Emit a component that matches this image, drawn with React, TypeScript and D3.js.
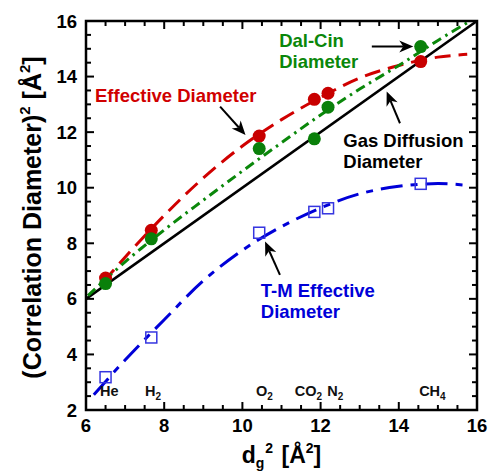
import React from 'react';
import * as d3 from 'd3';

// measured points (x = dg^2, y = correlation diameter^2)
const gases = ['He', 'H2', 'O2', 'CO2', 'N2', 'CH4'];
const gasSub = ['', '2', '2', '2', '2', '4'];
const gasBase = ['He', 'H', 'O', 'CO', 'N', 'CH'];
const gasLabelX = [6.36, 7.51, 10.35, 11.34, 12.17, 14.52];
const dg2 = [6.5, 7.67, 10.43, 11.84, 12.19, 14.56];
const effective = [6.75, 8.47, 11.86, 13.18, 13.4, 14.54];
const dalCin = [6.55, 8.16, 11.41, 11.76, 12.9, 15.08];
const tmEffective = [3.18, 4.61, 8.38, 9.13, 9.26, 10.14];

// fitted curves
const gasDiffX = [6, 16];
const gasDiffY = [6, 16];
const effCurveX = [6.45, 7, 8, 9, 10, 11, 12, 13, 14, 15, 15.75];
const effCurveY = [6.62, 7.5, 9.0, 10.35, 11.5, 12.45, 13.25, 13.95, 14.4, 14.7, 14.8];
const dalCurveX = [6.05, 7, 8, 9, 10, 11, 12, 13, 14, 15, 16];
const dalCurveY = [6.12, 7.33, 8.48, 9.55, 10.6, 11.62, 12.62, 13.55, 14.4, 15.3, 16.15];
const tmCurveX = [6.2, 7, 8, 9, 10, 11, 12, 13, 14, 15, 15.8];
const tmCurveY = [2.55, 3.8, 5.25, 6.65, 7.75, 8.6, 9.27, 9.78, 10.05, 10.15, 10.08];

const xTicks = [6, 8, 10, 12, 14, 16];
const yTicks = [2, 4, 6, 8, 10, 12, 14, 16];

const RED = '#d00000';
const GREEN = '#0a870a';
const BLUE = '#0000d8';
const FONT = 'Arial, "Liberation Sans", Helvetica, sans-serif';

const width = 489;
const height = 472;
const margin = { top: 21, right: 12, bottom: 62, left: 86 };

const App: React.FC = () => {
  const innerW = width - margin.left - margin.right;
  const innerH = height - margin.top - margin.bottom;
  const x = d3.scaleLinear().domain([6, 16]).range([margin.left, margin.left + innerW]);
  const y = d3.scaleLinear().domain([2, 16]).range([margin.top + innerH, margin.top]);

  const line = d3
    .line<[number, number]>()
    .x(d => x(d[0]))
    .y(d => y(d[1]))
    .curve(d3.curveCatmullRom.alpha(0.5));

  const zip = (a: number[], b: number[]) => a.map((v, i) => [v, b[i]] as [number, number]);

  const minorX = d3.range(6, 16.01, 0.5);
  const minorY = d3.range(2, 16.01, 0.5);
  const isMajor = (v: number) => Math.abs(v % 2) < 1e-6;

  // annotations in data units: text lines + arrow tail/tip
  const annotations = [
    { lines: ['Effective Diameter'], x: 6.23, y: 13.1, color: RED, tail: [9.43, 12.92], tip: [10.08, 11.9] },
    { lines: ['Dal-Cin', 'Diameter'], x: 10.94, y: 15.08, color: GREEN, tail: [13.31, 15.08], tip: [14.37, 15.08] },
    { lines: ['Gas Diffusion', 'Diameter'], x: 12.58, y: 11.48, color: '#000', tail: [14.03, 12.32], tip: [13.69, 13.46] },
    { lines: ['T-M Effective', 'Diameter'], x: 10.47, y: 6.08, color: BLUE, tail: [10.96, 6.86], tip: [10.58, 8.06] },
  ];

  const arrowHead = (tail: number[], tip: number[]) => {
    const x1 = x(tail[0]), y1 = y(tail[1]);
    const x2 = x(tip[0]), y2 = y(tip[1]);
    const a = Math.atan2(y2 - y1, x2 - x1);
    const L = 14, W = 6, N = 10;
    const px = (d: number, s: number) => x2 - d * Math.cos(a) - s * Math.sin(a);
    const py = (d: number, s: number) => y2 - d * Math.sin(a) + s * Math.cos(a);
    return {
      shaft: `M${x1},${y1}L${px(N, 0)},${py(N, 0)}`,
      head: `M${x2},${y2}L${px(L, W)},${py(L, W)}L${px(N, 0)},${py(N, 0)}L${px(L, -W)},${py(L, -W)}Z`,
    };
  };

  return (
    <div style={{ position: 'fixed', left: 0, top: 0 }}>
      <svg width={width} height={height} viewBox={`0 0 ${width} ${height}`} style={{ display: 'block', background: '#fff' }}>
        <defs>
          <clipPath id="plot">
            <rect x={margin.left} y={margin.top} width={innerW} height={innerH} />
          </clipPath>
        </defs>

        {/* ticks, inward on all sides */}
        <g stroke="#000" strokeWidth={2}>
          {minorX.map(v => {
            const len = isMajor(v) ? 8 : 5;
            return (
              <g key={`x${v}`}>
                <line x1={x(v)} x2={x(v)} y1={y(2)} y2={y(2) - len} />
                <line x1={x(v)} x2={x(v)} y1={y(16)} y2={y(16) + len} />
              </g>
            );
          })}
          {minorY.map(v => {
            const len = isMajor(v) ? 8 : 5;
            return (
              <g key={`y${v}`}>
                <line x1={x(6)} x2={x(6) + len} y1={y(v)} y2={y(v)} />
                <line x1={x(16)} x2={x(16) - len} y1={y(v)} y2={y(v)} />
              </g>
            );
          })}
        </g>

        {/* curves */}
        <g clipPath="url(#plot)" fill="none">
          <path d={line(zip(gasDiffX, gasDiffY)) || ''} stroke="#000" strokeWidth={2.6} />
          <path d={line(zip(effCurveX, effCurveY)) || ''} stroke={RED} strokeWidth={3} strokeDasharray="16 8" />
          <path d={line(zip(dalCurveX, dalCurveY)) || ''} stroke={GREEN} strokeWidth={3} strokeDasharray="10 5 2.5 5" />
          <path d={line(zip(tmCurveX, tmCurveY)) || ''} stroke={BLUE} strokeWidth={3} strokeDasharray="22 8 7 8" />
        </g>

        {/* points */}
        <g>
          {dg2.map((v, i) => (
            <rect key={`tm${i}`} x={x(v) - 5.5} y={y(tmEffective[i]) - 5.5} width={11} height={11}
              fill="none" stroke="#3535e0" strokeWidth={1.5} />
          ))}
          {dg2.map((v, i) => (
            <circle key={`ef${i}`} cx={x(v)} cy={y(effective[i])} r={6.5} fill="#c80000" />
          ))}
          {dg2.map((v, i) => (
            <circle key={`dc${i}`} cx={x(v)} cy={y(dalCin[i])} r={6.5} fill="#0a800a" />
          ))}
        </g>

        {/* frame */}
        <rect x={margin.left} y={margin.top} width={innerW} height={innerH} fill="none" stroke="#000" strokeWidth={2.5} />

        {/* gas labels */}
        <g fontFamily={FONT} fontWeight="bold" fontSize={14.5} fill="#111">
          {gases.map((g, i) => (
            <text key={g} x={x(gasLabelX[i])} y={y(2.49)}>
              {gasBase[i]}
              {gasSub[i] && <tspan fontSize={10} dy={4}>{gasSub[i]}</tspan>}
            </text>
          ))}
        </g>

        {/* tick labels */}
        <g fontFamily={FONT} fontWeight="bold" fontSize={18.5} fill="#000">
          {xTicks.map(v => (
            <text key={`xt${v}`} x={x(v)} y={y(2) + 22} textAnchor="middle">{v}</text>
          ))}
          {yTicks.map(v => (
            <text key={`yt${v}`} x={x(6) - 9} y={y(v) + 6.5} textAnchor="end">{v}</text>
          ))}
        </g>

        {/* axis titles */}
        <text x={x(11)} y={463} textAnchor="middle" fontFamily={FONT} fontWeight="bold" fontSize={23}>
          d<tspan fontSize={14} dy={5}>g</tspan>
          <tspan fontSize={14} dy={-15} dx={1}>2</tspan>
          <tspan dy={10} dx={2}> [Å</tspan>
          <tspan fontSize={14} dy={-10}>2</tspan>
          <tspan dy={10}>]</tspan>
        </text>
        <text transform={`translate(41,${(margin.top + margin.top + innerH) / 2 + 2}) rotate(-90)`}
          textAnchor="middle" fontFamily={FONT} fontWeight="bold" fontSize={25}>
          (Correlation Diameter)
          <tspan fontSize={15} dy={-11}>2</tspan>
          <tspan dy={11}>  [Å</tspan>
          <tspan fontSize={15} dy={-11}>2</tspan>
          <tspan dy={11}>]</tspan>
        </text>

        {/* annotations */}
        {annotations.map((a, i) => {
          const arr = arrowHead(a.tail, a.tip);
          return (
            <g key={`an${i}`}>
              <text x={x(a.x)} y={y(a.y)} fontFamily={FONT} fontWeight="bold" fontSize={18.5} fill={a.color}>
                {a.lines.map((l, j) => (
                  <tspan key={j} x={x(a.x)} dy={j === 0 ? 0 : 21.7}>{l}</tspan>
                ))}
              </text>
              <path d={arr.shaft} stroke="#000" strokeWidth={2} fill="none" />
              <path d={arr.head} fill="#000" />
            </g>
          );
        })}
      </svg>
    </div>
  );
};

export default App;
